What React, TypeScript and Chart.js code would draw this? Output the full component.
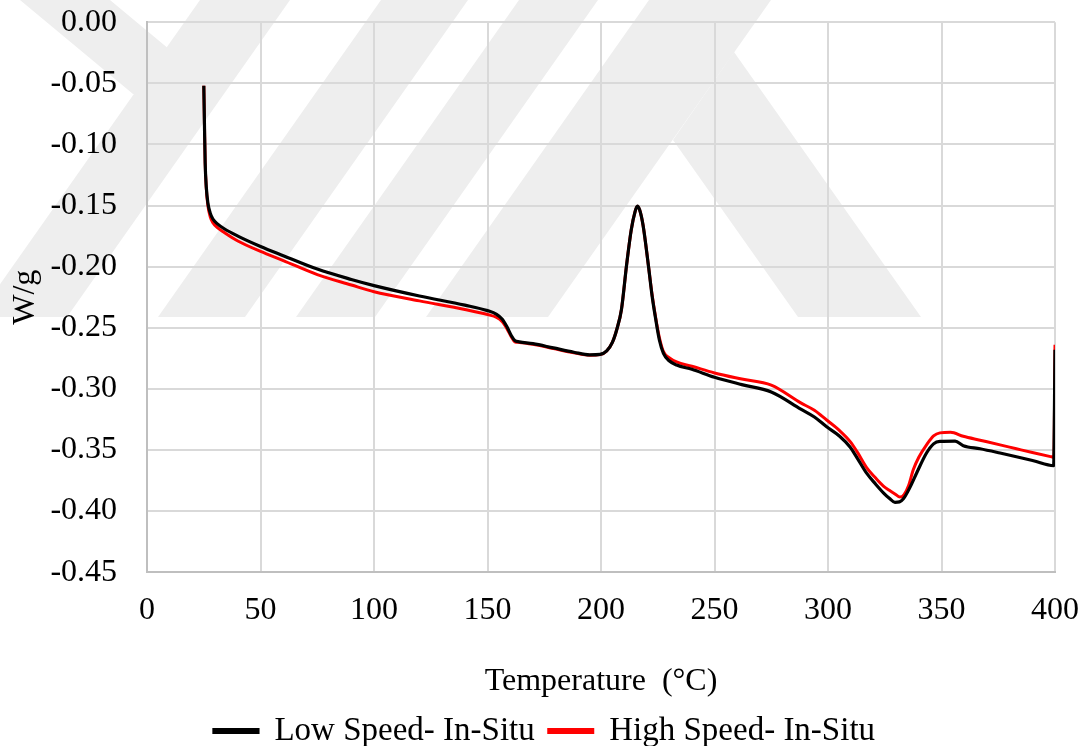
import React, { useEffect, useRef } from "react";
import { Chart, registerables } from "chart.js";

Chart.register(...registerables);

// DSC heat-flow traces (W/g) against temperature (°C)
const lowTemps = [
  25, 25.3, 25.6, 26.1, 26.8, 27.8, 29, 31, 34, 40, 50, 60, 75, 90, 100, 120, 140, 150, 154, 156.5,
  158.5, 160.5, 162, 164, 170, 179, 188, 195, 199.6, 202.5, 205, 207, 209, 211.3, 213.3, 215, 216,
  217, 218.5, 220.8, 222.5, 224, 225.7, 227.5, 230, 233.3, 240, 250, 262, 275, 288, 294, 299.4, 305,
  309.7, 313, 317, 321, 324.4, 327, 329.5, 331.5, 333.2, 336, 339, 343.4, 346.5, 349.3, 356, 359.6,
  367, 375.8, 383, 390.5, 399.4, 400,
];
const lowValues = [
  -0.052, -0.085, -0.115, -0.135, -0.148, -0.156, -0.161, -0.165, -0.169, -0.175, -0.1835, -0.191,
  -0.202, -0.2105, -0.2155, -0.224, -0.2315, -0.236, -0.239, -0.243, -0.249, -0.2565, -0.2605,
  -0.2615, -0.263, -0.2665, -0.27, -0.2722, -0.2718, -0.269, -0.262, -0.251, -0.235, -0.198, -0.17,
  -0.155, -0.1505, -0.1535, -0.166, -0.198, -0.224, -0.242, -0.26, -0.271, -0.277, -0.2805, -0.284,
  -0.2905, -0.2965, -0.3025, -0.3165, -0.323, -0.331, -0.3385, -0.3475, -0.357, -0.369, -0.378,
  -0.385, -0.3895, -0.3928, -0.3925, -0.39, -0.381, -0.369, -0.3525, -0.345, -0.343, -0.3428,
  -0.3465, -0.349, -0.3525, -0.3555, -0.3588, -0.3628, -0.268,
];

const highTemps = [
  25, 25.3, 25.6, 26.1, 26.8, 27.8, 29, 31, 34, 40, 50, 60, 75, 90, 100, 120, 140, 150, 154, 156.5,
  158.5, 160.5, 162, 164, 170, 179, 188, 195, 199.6, 202.5, 205, 207, 209, 211.3, 213.3, 215, 216,
  217, 218.5, 220.8, 222.5, 224, 225.7, 227.5, 230, 233.3, 240, 250, 262, 275, 288, 294, 299.4, 305,
  309.7, 313, 317, 321, 324.4, 327, 329.5, 331.7, 333.5, 335.5, 337.6, 340, 343.4, 346.5, 349.3, 354,
  359.6, 367, 375.8, 383, 390.5, 398.5, 399.5, 400,
];
const highValues = [
  -0.052, -0.085, -0.115, -0.136, -0.15, -0.159, -0.164, -0.168, -0.172, -0.179, -0.1875, -0.195,
  -0.2065, -0.215, -0.2205, -0.228, -0.235, -0.2392, -0.2415, -0.245, -0.2505, -0.2575, -0.2615,
  -0.262, -0.2635, -0.267, -0.2705, -0.2725, -0.272, -0.269, -0.262, -0.251, -0.235, -0.198, -0.17,
  -0.155, -0.1505, -0.1535, -0.166, -0.198, -0.223, -0.241, -0.258, -0.2695, -0.2745, -0.278,
  -0.2815, -0.287, -0.292, -0.297, -0.3115, -0.3175, -0.3255, -0.334, -0.343, -0.352, -0.3645,
  -0.373, -0.3795, -0.383, -0.386, -0.3885, -0.3865, -0.379, -0.366, -0.356, -0.3458, -0.3385,
  -0.336, -0.3355, -0.3388, -0.342, -0.3458, -0.349, -0.3523, -0.3556, -0.356, -0.264,
];

const seriesNames = ["Low Speed- In-Situ", "High Speed- In-Situ"];
const seriesColors = ["#000000", "#ff0000"];

const xTitle = "Temperature  (°C)";
const yTitle = "W/g";

const FONT = "'Liberation Serif', 'Times New Roman', serif";
const FONT_SIZE = 32;

// Faint document watermark painted behind the chart (canvas pixels)
const watermarkShapes: number[][][] = [
  [[200, 0], [290, 0], [67, 317], [-23, 317]],
  [[20, 0], [110, 0], [223, 94], [133, 94]],
  [[381, 0], [468, 0], [245, 317], [158, 317]],
  [[519, 0], [598, 0], [375, 317], [296, 317]],
  [[649, 0], [771, 0], [548, 317], [426, 317]],
  [[734, 52], [921, 317], [798, 317], [673, 140]],
];

const watermarkPlugin = {
  id: "watermark",
  beforeDraw(chart: Chart) {
    const { ctx } = chart;
    ctx.save();
    ctx.fillStyle = "#eeeeee";
    for (const shape of watermarkShapes) {
      ctx.beginPath();
      shape.forEach(([x, y], i) => (i === 0 ? ctx.moveTo(x, y) : ctx.lineTo(x, y)));
      ctx.closePath();
      ctx.fill();
    }
    ctx.restore();
  },
};

const toPoints = (xs: number[], ys: number[]) => xs.map((x, i) => ({ x, y: ys[i] }));

export default function App() {
  const canvasRef = useRef<HTMLCanvasElement | null>(null);

  useEffect(() => {
    document.body.style.margin = "0";
    const canvas = canvasRef.current;
    if (!canvas) return;

    const textFont = { family: FONT, size: FONT_SIZE };
    const hidden = "rgba(0,0,0,0)";

    const chart = new Chart(canvas, {
      type: "line",
      data: {
        datasets: [
          {
            label: seriesNames[0],
            data: toPoints(lowTemps, lowValues),
            borderColor: seriesColors[0],
            backgroundColor: seriesColors[0],
            borderWidth: 3.2,
            pointRadius: 0,
            cubicInterpolationMode: "monotone",
          },
          {
            label: seriesNames[1],
            data: toPoints(highTemps, highValues),
            borderColor: seriesColors[1],
            backgroundColor: seriesColors[1],
            borderWidth: 3,
            pointRadius: 0,
            cubicInterpolationMode: "monotone",
          },
        ],
      },
      plugins: [watermarkPlugin],
      options: {
        responsive: false,
        animation: false,
        layout: { padding: { left: 0, right: 0, top: 0, bottom: -11.5 } },
        plugins: {
          tooltip: { enabled: false },
          legend: {
            position: "bottom",
            labels: {
              boxWidth: 44,
              boxHeight: 3,
              padding: 14,
              color: "#000",
              font: { family: FONT, size: 33 },
            },
          },
        },
        scales: {
          x: {
            type: "linear",
            min: 0,
            max: 400,
            ticks: {
              stepSize: 50,
              padding: 10,
              color: "#000",
              font: textFont,
            },
            grid: { color: "#d9d9d9", lineWidth: 2, drawTicks: true, tickLength: 9, tickColor: hidden },
            border: { color: "#bfbfbf", width: 2 },
            title: {
              display: true,
              text: xTitle,
              color: "#000",
              font: textFont,
              padding: { top: 23, bottom: -0.5 },
            },
          },
          y: {
            min: -0.45,
            max: 0,
            ticks: {
              stepSize: 0.05,
              padding: 3,
              color: "#000",
              font: textFont,
              callback: (v: any) => Number(v).toFixed(2),
            },
            grid: { color: "#d9d9d9", lineWidth: 2, drawTicks: true, tickLength: 27, tickColor: hidden },
            border: { color: "#bfbfbf", width: 2 },
            title: {
              display: true,
              text: yTitle,
              color: "#000",
              font: textFont,
              padding: { top: 6, bottom: 3 },
            },
          },
        },
      },
    });

    return () => chart.destroy();
  }, []);

  return (
    <div style={{ width: 1089, height: 746 }}>
      <canvas ref={canvasRef} width={1089} height={746} />
    </div>
  );
}
